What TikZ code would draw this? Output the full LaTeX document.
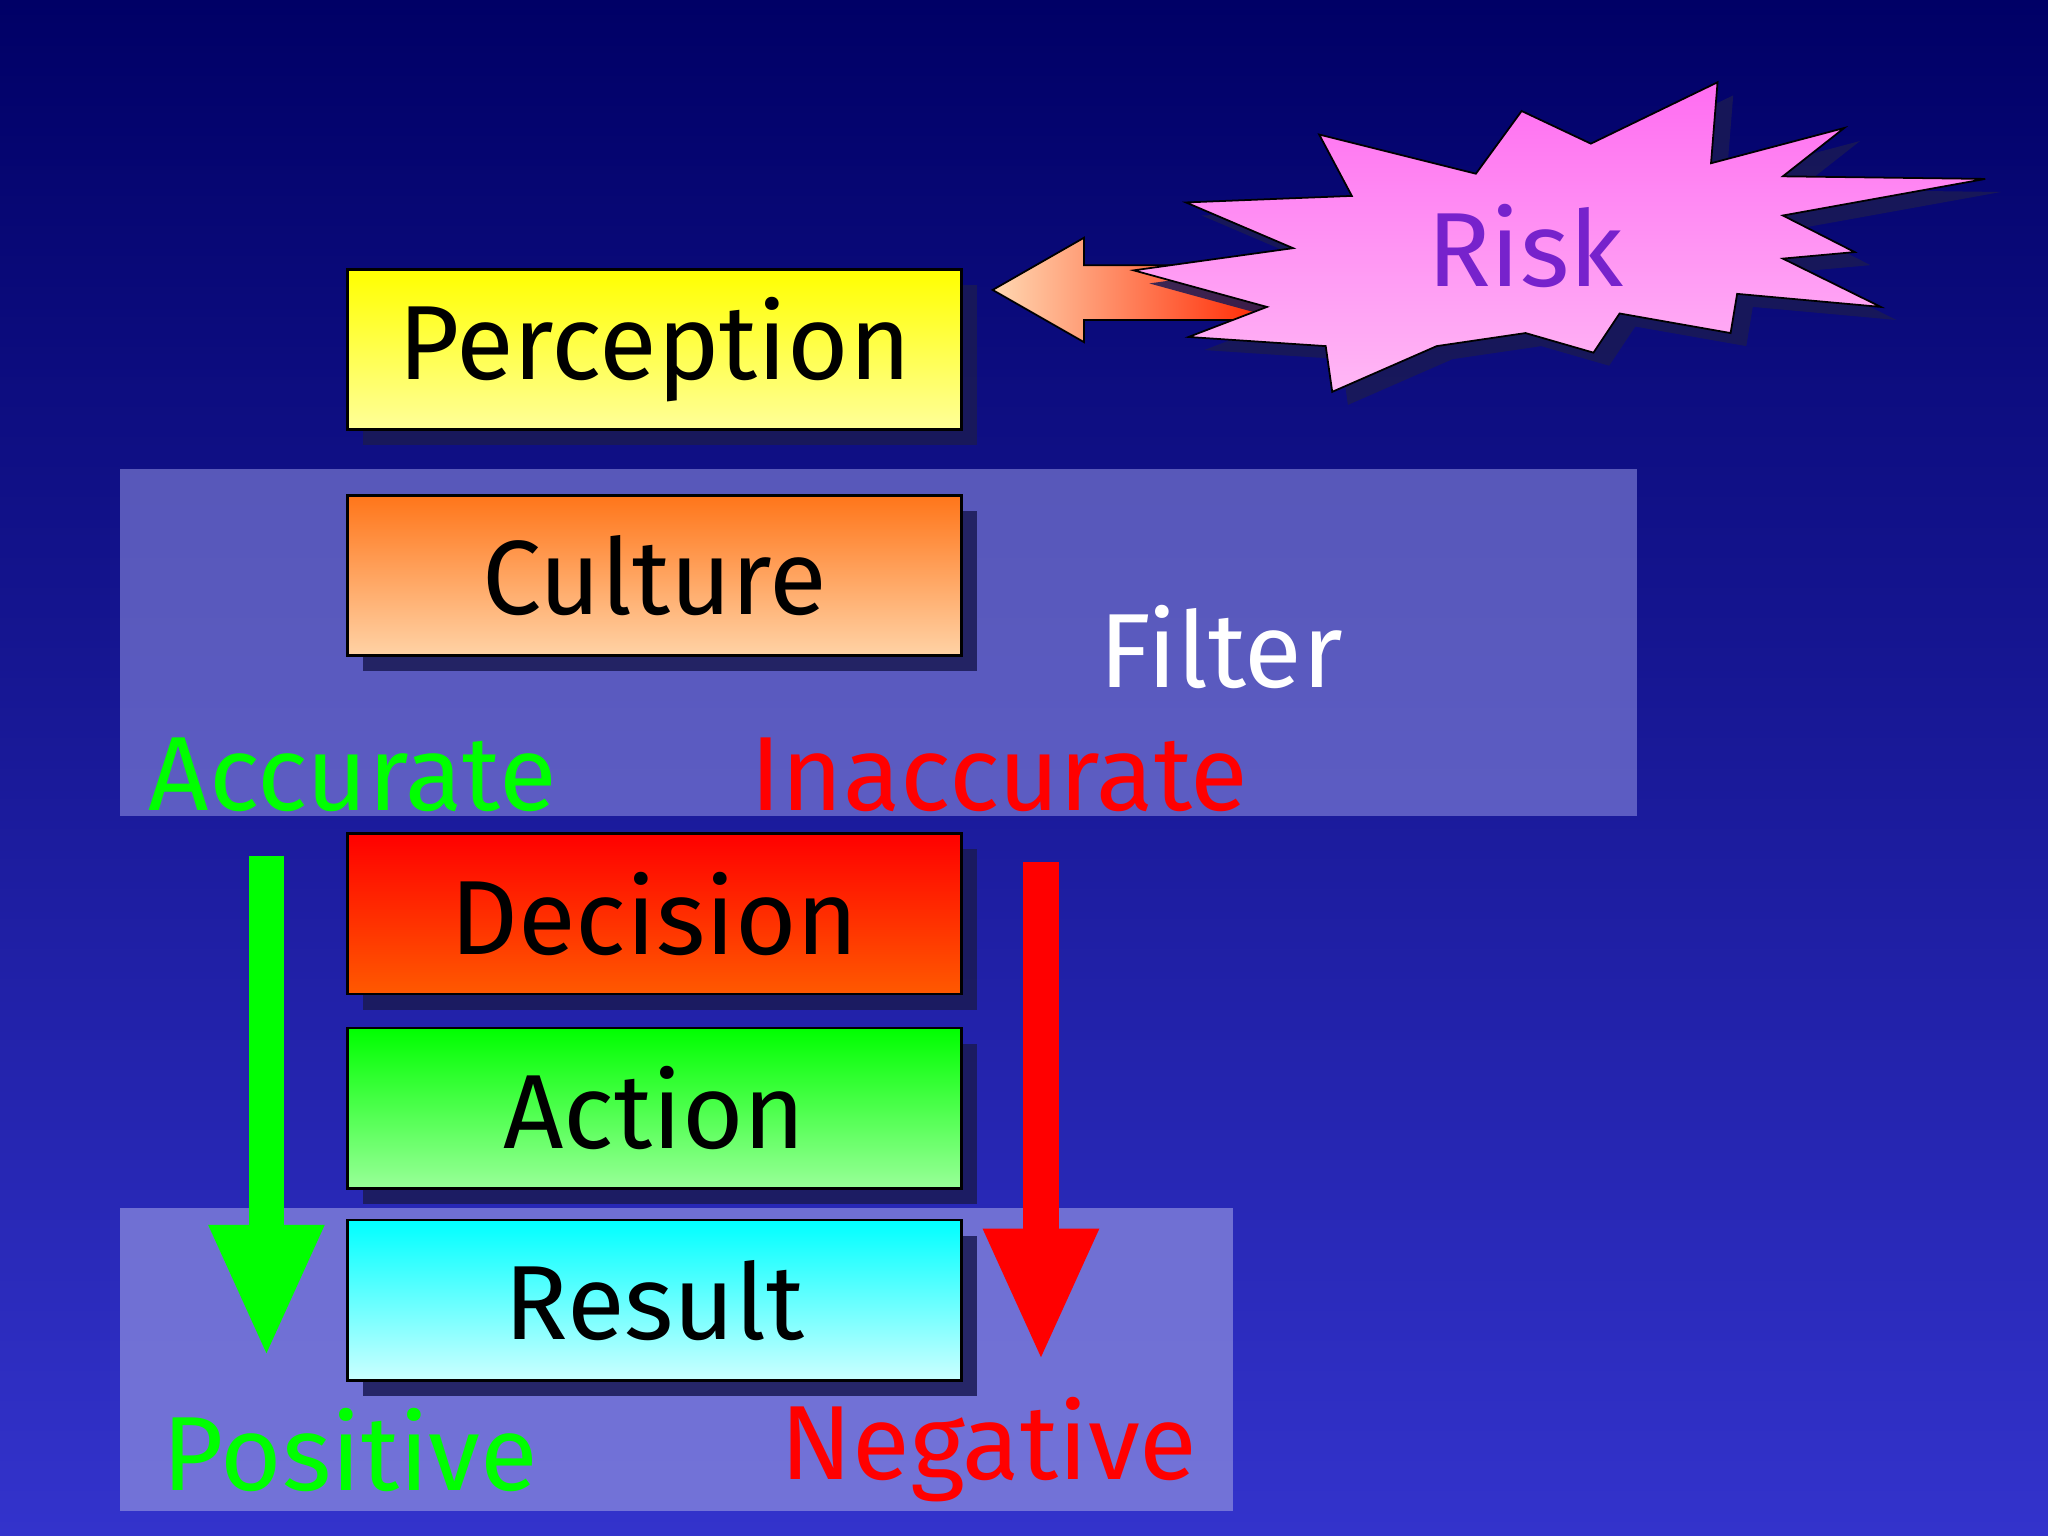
\documentclass[tikz,border=0pt]{standalone}
\usepackage{fontspec}
\setmainfont{Fira Sans}
\usetikzlibrary{shapes.arrows,arrows.meta}
\definecolor{bgtop}{HTML}{000066}
\definecolor{bgbot}{HTML}{3333CC}
\definecolor{band}{HTML}{8888DD}
\definecolor{shad}{HTML}{1A1A55}
\definecolor{riskpink}{HTML}{FF88EE}
\definecolor{riskpur}{HTML}{7722CC}
\begin{document}
\begin{tikzpicture}[x=0.013061cm,y=-0.013061cm,
  bigtxt/.style={font=\fontsize{30}{34}\selectfont},
  stepbox/.style={draw=black,line width=0.8pt,minimum width=470*0.013061cm,minimum height=123*0.013061cm,bigtxt,anchor=north west,inner sep=0pt}]
\shade[top color=bgtop,bottom color=bgbot] (0,0) rectangle (1568,1176);
\useasboundingbox (0,0) rectangle (1568,1176);
% bands
\fill[band,opacity=0.6] (92,359) rectangle (1253,625);
\fill[band,opacity=0.75] (92,925) rectangle (944,1157);
% shadows
\foreach \y in {205,378,637,786,933}{\fill[shad,opacity=0.85] (278,\y+13) rectangle (748,\y+136);}
\node[stepbox,top color=yellow,bottom color=yellow!40] (per) at (265,205) {Perception};
\node[stepbox,top color=orange!80!red!90,bottom color=orange!35] (cul) at (265,378) {Culture};
\node[stepbox,top color=red,bottom color=orange!70!red] (dec) at (265,637) {Decision};
\node[stepbox,top color=green,bottom color=green!40] (act) at (265,786) {Action};
\node[stepbox,top color=cyan,bottom color=cyan!20] (res) at (265,933) {Result};
\node[bigtxt,white] (fil) at (935,495) {Filter};
\node[bigtxt,green] (acc) at (270,593) {Accurate};
\node[bigtxt,red] (inacc) at (765,593) {Inaccurate};
\node[bigtxt,green] (pos) at (268,1110) {Positive};
\node[bigtxt,red] (neg) at (757,1110) {Negative};
% vertical arrows
\coordinate (g1) at (204,655); \coordinate (g2) at (204,1040);
\coordinate (r1) at (797,660); \coordinate (r2) at (797,1043);
\draw[green,line width=10pt,-{Triangle[length=38pt,width=30pt]}] (g1) -- (g2);
\draw[red,line width=10pt,-{Triangle[length=38pt,width=30pt]}] (r1) -- (r2);
% risk arrow
\shade[left color=orange!30,right color=red!70!orange,draw=black,line width=0.5pt]
 (760,222) -- (830,182) -- (830,203) -- (970,203) -- (970,245) -- (830,245) -- (830,262) -- cycle;
% starburst shadow and star
\fill[shad,opacity=0.85,shift={(12,10)}] (1010,103)--(1130,133)--(1165,85)--(1218,110)--(1315,63)--(1310,125)--(1412,98)--(1365,135)--(1520,137)--(1365,165)--(1420,193)--(1365,198)--(1440,235)--(1330,225)--(1325,255)--(1240,240)--(1220,270)--(1168,255)--(1100,265)--(1020,300)--(1015,265)--(910,258)--(970,235)--(868,207)--(990,190)--(908,155)--(1035,150)--cycle;
\shade[top color=riskpink!80!magenta,bottom color=riskpink!60,draw=black,line width=0.5pt] (1010,103)--(1130,133)--(1165,85)--(1218,110)--(1315,63)--(1310,125)--(1412,98)--(1365,135)--(1520,137)--(1365,165)--(1420,193)--(1365,198)--(1440,235)--(1330,225)--(1325,255)--(1240,240)--(1220,270)--(1168,255)--(1100,265)--(1020,300)--(1015,265)--(910,258)--(970,235)--(868,207)--(990,190)--(908,155)--(1035,150)--cycle;
\node[bigtxt,riskpur] (risk) at (1168,188) {Risk};
\end{tikzpicture}
\end{document}
